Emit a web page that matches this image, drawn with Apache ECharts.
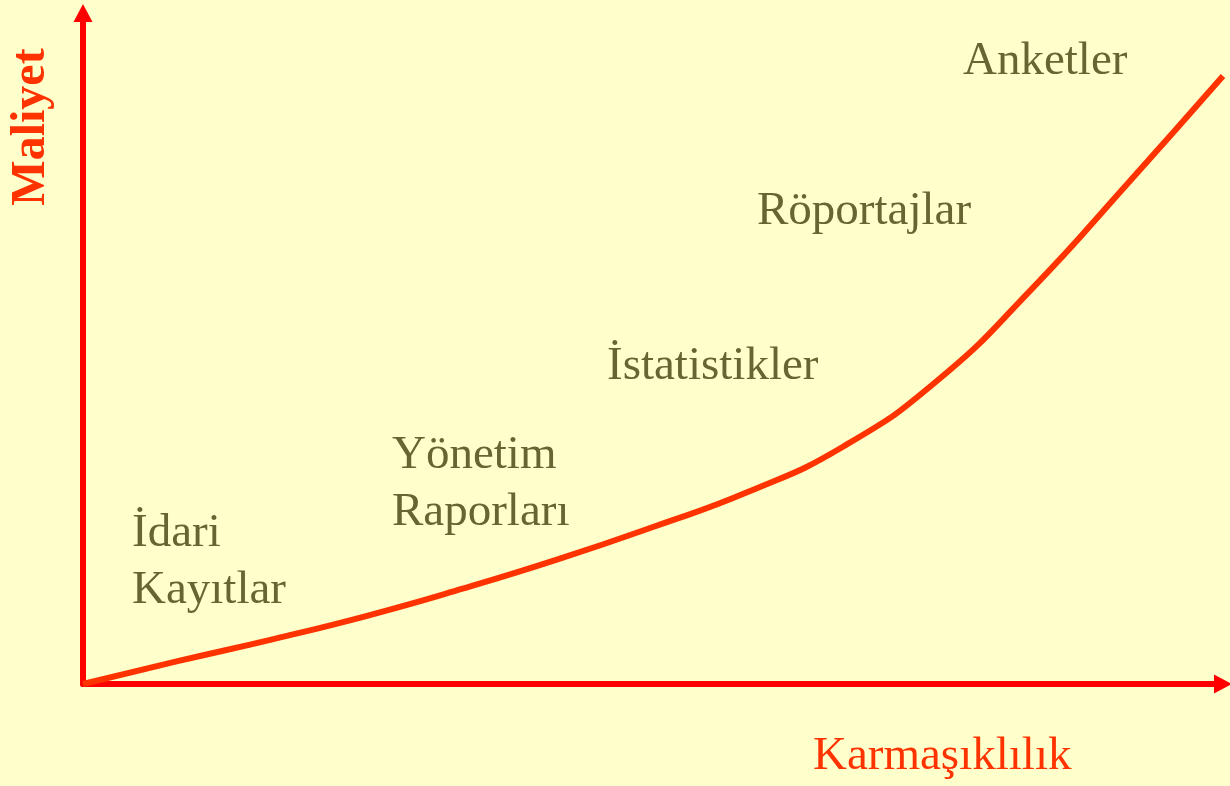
<!DOCTYPE html>
<html>
<head>
<meta charset="utf-8">
<script src="https://cdn.jsdelivr.net/npm/echarts@6/dist/echarts.min.js"></script>
<style>
html,body{margin:0;padding:0;background:#FFFFCC;}
#chart{width:1230px;height:786px;}
</style>
</head>
<body>
<div id="chart"></div>
<script>
// Complexity (x) and cost (y) values
const complexity = [0, 8.3, 16.7, 25, 33.3, 41.7, 50, 58.3, 66.7, 75, 83.3, 91.7, 100];
const cost       = [0, 3.4, 6.7, 10.2, 14.2, 18.6, 23.4, 28.6, 35.4, 45.3, 59.0, 74.7, 90.6];
const xTitle = 'Karmaşıklılık';
const yTitle = 'Maliyet';
const methodLabels = ['İdari\nKayıtlar', 'Yönetim\nRaporları', 'İstatistikler', 'Röportajlar', 'Anketler'];

const chart = echarts.init(document.getElementById('chart'));
const serif = '"Liberation Serif", "Times New Roman", serif';
const labelColor = '#666633';
const fs = 47;

function txt(text, x, y, extra) {
  return Object.assign({
    type: 'text', x: x, y: y, silent: true,
    style: { text: text, fill: labelColor, font: fs + 'px ' + serif, lineHeight: 57, verticalAlign: 'top', align: 'left' }
  }, extra || {});
}

chart.setOption({
  backgroundColor: '#FFFFCC',
  animation: false,
  grid: { left: 83, right: 7, top: 13, bottom: 102 },
  xAxis: {
    type: 'value', min: 0, max: 100,
    axisLine: { show: true, lineStyle: { color: '#FF0000', width: 6 }, symbol: ['none', 'triangle'], symbolSize: [19, 18] },
    axisTick: { show: false }, axisLabel: { show: false }, splitLine: { show: false }
  },
  yAxis: {
    type: 'value', min: 0, max: 100,
    axisLine: { show: true, lineStyle: { color: '#FF0000', width: 6 }, symbol: ['none', 'triangle'], symbolSize: [19, 18] },
    axisTick: { show: false }, axisLabel: { show: false }, splitLine: { show: false }
  },
  series: [{
    type: 'line',
    data: complexity.map((c, i) => [c, cost[i]]),
    smooth: 0.5,
    showSymbol: false,
    clip: false,
    lineStyle: { color: '#FF3300', width: 6 }
  }],
  graphic: [
    txt(methodLabels[0], 132, 505),
    txt(methodLabels[1], 392, 427),
    txt(methodLabels[2], 607, 338),
    txt(methodLabels[3], 757, 183),
    txt(methodLabels[4], 963, 33),
    {
      type: 'text', x: 813, y: 733, silent: true,
      style: { text: xTitle, fill: '#FF3300', font: fs + 'px ' + serif, verticalAlign: 'top', align: 'left' }
    },
    {
      type: 'text', x: 32, y: 127, rotation: Math.PI / 2, silent: true,
      style: { text: yTitle, fill: '#FF3300', font: 'bold 48px ' + serif, verticalAlign: 'middle', align: 'center' }
    }
  ]
});
</script>
</body>
</html>
